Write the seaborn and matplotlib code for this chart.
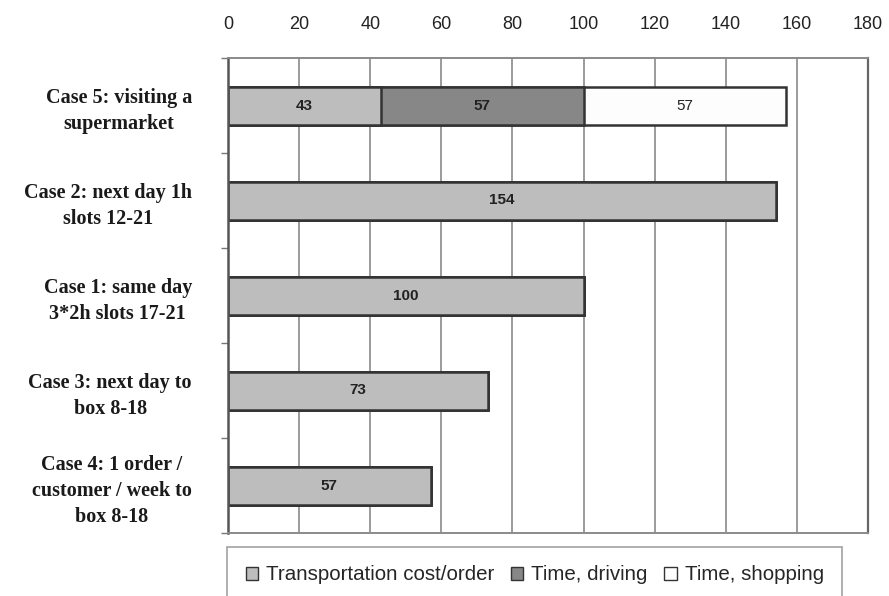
import numpy as np
import pandas as pd
import matplotlib
matplotlib.use("Agg")
import matplotlib.pyplot as plt
import seaborn as sns
from matplotlib.patches import Patch

# данные, читаем с картинки
cases = ['Case 5: visiting a\nsupermarket',
         'Case 2: next day 1h\nslots 12-21',
         'Case 1: same day\n3*2h slots 17-21',
         'Case 3: next day to\nbox 8-18',
         'Case 4: 1 order /\ncustomer / week to\nbox 8-18']
transport = [43, 154, 100, 73, 57]
driving = [57, 0, 0, 0, 0]
shopping = [57, 0, 0, 0, 0]
series = ['Transportation cost/order', 'Time, driving', 'Time, shopping']
colors = ['#BDBDBD', '#878787', '#FDFDFD']

df = pd.DataFrame({'case': cases, 'transport': transport,
                   'driving': driving, 'shopping': shopping})
df['c1'] = df['transport']
df['c2'] = df['c1'] + df['driving']
df['c3'] = df['c2'] + df['shopping']

sns.set_theme(style='white')
plt.rcParams['font.family'] = ['Liberation Sans', 'DejaVu Sans']

fig = plt.figure(figsize=(8.89, 5.96), dpi=100)
ax = fig.add_axes([228/889, 1-533/596, 640/889, 475/596])

# рисуем слоями: сначала сумма, потом частичные суммы
for col, c in zip(['c3', 'c2', 'c1'], colors[::-1]):
    sns.barplot(data=df, x=col, y='case', orient='h', color=c, width=0.4,
                edgecolor='#333333', linewidth=1.8, saturation=1, ax=ax)

# подписи сегментов
for i, row in df.iterrows():
    left = 0
    for k, key in enumerate(['transport', 'driving', 'shopping']):
        v = row[key]
        if v > 0:
            ax.text(left + v/2, i, f'{v}', ha='center', va='center',
                    fontsize=11, fontweight='bold' if k < 2 else 'normal',
                    color='#222222')
        left += v

ax.set_xlim(0, 180)
ax.set_ylim(4.5, -0.5)
ax.set_xticks(np.arange(0, 181, 20))
ax.xaxis.tick_top()
ax.tick_params(axis='x', length=0, pad=18, labelsize=13, labelcolor='#222222')
ax.set_xlabel('')
ax.set_ylabel('')
ax.grid(axis='x', color='#8a8a8a', linewidth=1.2)
ax.set_axisbelow(True)

# подписи категорий
ax.set_yticks(range(len(cases)))
ax.set_yticklabels(cases, fontfamily='Liberation Serif', fontweight='bold',
                   fontsize=14.5, linespacing=1.4, multialignment='center')
ax.tick_params(axis='y', length=0, pad=26, labelcolor='#1a1a1a')
ax.set_yticks(np.arange(-0.5, 5, 1), minor=True)
ax.tick_params(axis='y', which='minor', length=5, color='#777777', left=True)

for s in ['top', 'bottom']:
    ax.spines[s].set_color('#8a8a8a')
    ax.spines[s].set_linewidth(1.4)
ax.spines['right'].set_color('#666666')
ax.spines['right'].set_linewidth(1.6)
ax.spines['left'].set_color('#555555')
ax.spines['left'].set_linewidth(1.8)

handles = [Patch(facecolor=c, edgecolor='#333333', label=s)
           for c, s in zip(colors, series)]
leg = fig.legend(handles=handles, loc='upper left', ncol=3,
                 bbox_to_anchor=(227/889, 1-547/596), fontsize=14.8,
                 handlelength=0.6, handleheight=0.6, handletextpad=0.4,
                 columnspacing=0.8, borderpad=0.9, borderaxespad=0,
                 fancybox=False, frameon=True)
leg.get_frame().set_edgecolor('#8a8a8a')
leg.get_frame().set_linewidth(1.2)

fig.savefig('out.png', dpi=100)
